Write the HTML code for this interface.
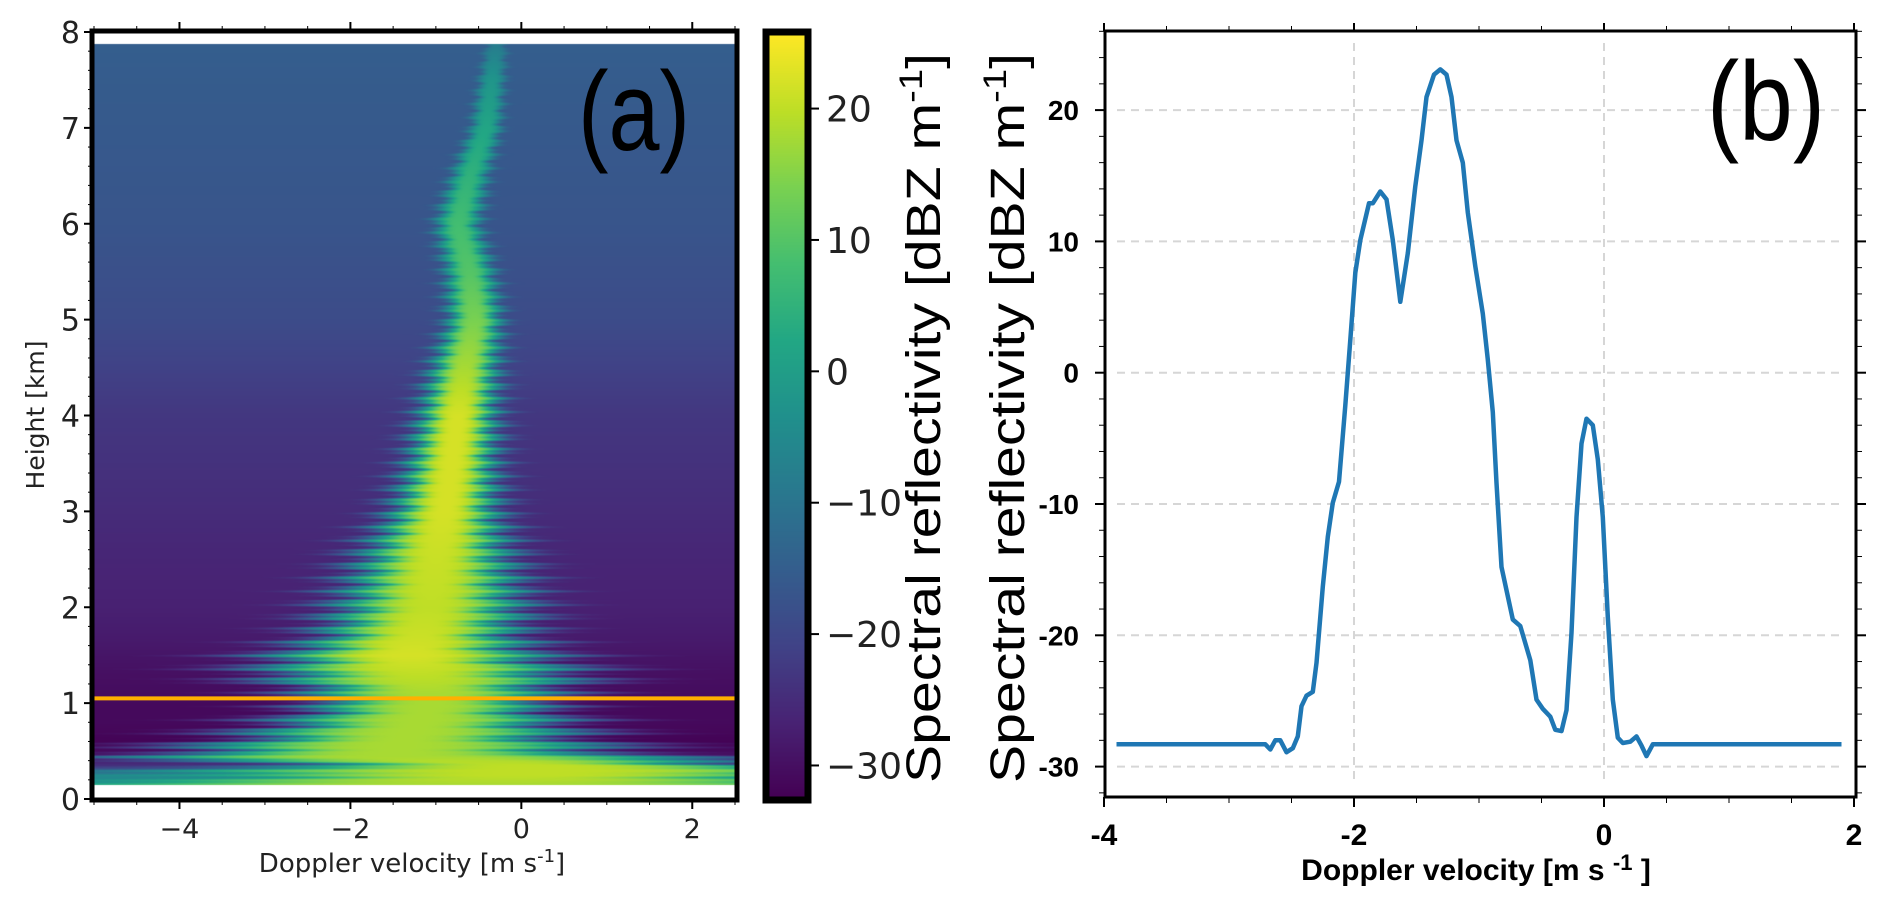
<!DOCTYPE html>
<html><head><meta charset="utf-8">
<style>
html,body{margin:0;padding:0;background:#fff;}
#wrap{position:relative;width:1892px;height:908px;overflow:hidden;}
canvas,svg{position:absolute;left:0;top:0;}
</style></head>
<body>
<div id="wrap">
<canvas id="heat" width="1892" height="908"></canvas>
<svg id="svg" width="1892" height="908" xmlns="http://www.w3.org/2000/svg"></svg>
</div>
<script>
// ---------- Panel (a) data: spectrogram profile keyframes ----------
const rowHeightsKm = [7.87, 7.5, 7.0, 6.5, 6.0, 5.5, 5.0, 4.5, 4.0, 3.5, 3.0, 2.6, 2.0, 1.7, 1.5, 1.3, 1.1, 1.0, 0.8, 0.6, 0.45, 0.35, 0.25, 0.15];
const rowBackground = [-15, -15.5, -16, -16.5, -17, -18, -19, -21, -23, -24, -25, -26, -27, -28, -29, -30, -30.5, -31, -31, -32, -30, -24, -5, -5];
const rowCenter = [-0.3, -0.35, -0.42, -0.61, -0.75, -0.61, -0.55, -0.67, -0.75, -0.82, -0.9, -0.99, -1.07, -1.2, -1.32, -1.2, -1.07, -1.07, -1.2, -1.4, -1.5, 0.2, 0.0, -0.5];
const rowHalfWidth = [0.1, 0.12, 0.14, 0.17, 0.2, 0.22, 0.24, 0.3, 0.35, 0.4, 0.48, 0.65, 0.85, 0.9, 1.2, 1.4, 1.1, 1.0, 1.3, 1.6, 2.3, 2.5, 2.8, 2.8];
const rowPeak = [-8, -2, 2, 5, 8, 10, 14, 18, 22, 22, 22, 21, 20, 21, 22, 20, 18, 18, 18, 18, 18, 20, 20, 18];
const markerHeightKm = 1.05;
const cbTicks = [20, 10, 0, -10, -20, -30];
const aXTicks = [-4, -2, 0, 2];
const aYTicks = [0, 1, 2, 3, 4, 5, 6, 7, 8];

// ---------- Panel (b) data ----------
const bVel = [-3.9,-2.71,-2.67,-2.63,-2.59,-2.54,-2.49,-2.45,-2.42,-2.38,-2.33,-2.30,-2.25,-2.21,-2.17,-2.12,-2.07,-2.03,-1.99,-1.95,-1.88,-1.85,-1.79,-1.74,-1.69,-1.63,-1.57,-1.51,-1.46,-1.42,-1.36,-1.31,-1.26,-1.22,-1.18,-1.13,-1.09,-1.03,-0.97,-0.93,-0.89,-0.86,-0.82,-0.73,-0.67,-0.59,-0.54,-0.49,-0.43,-0.39,-0.34,-0.30,-0.26,-0.22,-0.18,-0.14,-0.09,-0.05,-0.01,0.03,0.07,0.11,0.15,0.21,0.26,0.30,0.34,0.39,1.9];
const bRefl = [-28.3,-28.3,-28.7,-28.0,-28.0,-28.9,-28.6,-27.7,-25.4,-24.6,-24.3,-22.1,-16.3,-12.5,-9.9,-8.3,-2.5,2.5,7.6,10.1,12.9,12.9,13.8,13.2,10.1,5.4,9.1,14.2,17.7,21.0,22.7,23.1,22.7,21.0,17.7,16.0,12.2,8.1,4.5,1.0,-3.0,-8.4,-14.8,-18.8,-19.3,-21.9,-24.9,-25.6,-26.2,-27.2,-27.3,-25.7,-19.8,-11.0,-5.4,-3.5,-4.0,-6.6,-11.0,-18.6,-24.9,-27.8,-28.2,-28.1,-27.7,-28.4,-29.2,-28.3,-28.3];
const bXTicks = [-4, -2, 0, 2];
const bYTicks = [20, 10, 0, -10, -20, -30];

// ---------- axes ----------
const A = {x0:94, x1:735, y0:32, y1:799, vmin:-5, vmax:2.5, hmin:0, hmax:8};
const ax = v => A.x0 + (v - A.vmin) / (A.vmax - A.vmin) * (A.x1 - A.x0);
const ay = h => A.y1 - (h - A.hmin) / (A.hmax - A.hmin) * (A.y1 - A.y0);
const CB = {x0:769, x1:805, y0:35, y1:797, zmin:-32.4, zmax:25.6};
const cby = z => CB.y1 - (z - CB.zmin) / (CB.zmax - CB.zmin) * (CB.y1 - CB.y0);
const B = {x0:1105, x1:1856, y0:31, y1:797};
const bx = v => 1604 + v * 125;
const by = r => 372.7 - r * 13.13;

// viridis
const VIR = [[68,1,84],[72,35,116],[64,67,135],[52,94,141],[41,120,142],[32,144,140],[34,167,132],[68,190,112],[121,209,81],[189,222,38],[253,231,37]];
function viridis(t){ t=Math.max(0,Math.min(1,t)); const f=t*(VIR.length-1); const i=Math.min(VIR.length-2,Math.floor(f)); const u=f-i;
  return VIR[i].map((c,k)=>Math.round(c+(VIR[i+1][k]-c)*u)); }
function zc(z){ return viridis((z-CB.zmin)/(CB.zmax-CB.zmin)); }
function interpRow(arr,h){
  for(let i=0;i<rowHeightsKm.length-1;i++){
    const a=rowHeightsKm[i], b=rowHeightsKm[i+1];
    if(h<=a && h>=b){ const u=(a-h)/(a-b); return arr[i]+(arr[i+1]-arr[i])*u; }
  }
  return h>rowHeightsKm[0]?arr[0]:arr[arr.length-1];
}

// ---------- draw heatmap ----------
const cv=document.getElementById('heat'); const ctx=cv.getContext('2d');
const heatTop=Math.round(ay(rowHeightsKm[0])), heatBot=Math.round(ay(rowHeightsKm[rowHeightsKm.length-1]));
const img=ctx.createImageData(A.x1-A.x0, heatBot-heatTop);
for(let py=heatTop;py<heatBot;py++){
  const h=(A.y1-py)/(A.y1-A.y0)*(A.hmax-A.hmin);
  const bg=interpRow(rowBackground,h), c=interpRow(rowCenter,h), w0=interpRow(rowHalfWidth,h), pk=interpRow(rowPeak,h);
  const w=w0*(1+0.2*Math.sin(h*47)+0.14*Math.sin(h*131));
  for(let px=A.x0;px<A.x1;px++){
    const v=A.vmin+(px-A.x0)/(A.x1-A.x0)*(A.vmax-A.vmin);
    const dd=Math.abs((v-c)/w); const g=Math.exp(-dd*dd*dd*0.6);
    const z=bg+(pk-bg)*g;
    const col=zc(z); const k=((py-heatTop)*(A.x1-A.x0)+(px-A.x0))*4;
    img.data[k]=col[0]; img.data[k+1]=col[1]; img.data[k+2]=col[2]; img.data[k+3]=255;
  }
}
ctx.putImageData(img,A.x0,heatTop);
// colorbar
for(let py=CB.y0;py<CB.y1;py++){ const z=CB.zmin+(CB.y1-py)/(CB.y1-CB.y0)*(CB.zmax-CB.zmin); const c=zc(z);
  ctx.fillStyle=`rgb(${c[0]},${c[1]},${c[2]})`; ctx.fillRect(CB.x0,py,CB.x1-CB.x0,1); }

// ---------- SVG ----------
const NS='http://www.w3.org/2000/svg'; const svg=document.getElementById('svg');
function el(tag,attrs,parent){ const e=document.createElementNS(NS,tag); for(const k in attrs) e.setAttribute(k,attrs[k]); (parent||svg).appendChild(e); return e; }
function txt(s,attrs){ const e=el('text',attrs); e.textContent=s; return e; }

// marker line
let e=el('line',{x1:A.x0,x2:A.x1,y1:ay(markerHeightKm),y2:ay(markerHeightKm),stroke:'#ffb000','stroke-width':4});


// panel a frame
e=el('rect',{x:A.x0-2,y:A.y0-1,width:A.x1-A.x0+4,height:A.y1-A.y0+2,fill:'none',stroke:'#000','stroke-width':5});


aYTicks.forEach(h=>{ el('line',{x1:A.x0-10,x2:A.x0,y1:ay(h),y2:ay(h),stroke:'#000','stroke-width':2});
  const t=txt(String(h),{x:A.x0-14,y:ay(h)+11,'text-anchor':'end','font-family':'DejaVu Sans, sans-serif','font-size':30,fill:'#222'});
  
   });
for(let h=0.2;h<8;h+=0.2){ el('line',{x1:A.x0-6,x2:A.x0,y1:ay(h),y2:ay(h),stroke:'#000','stroke-width':1}); }
aXTicks.forEach(v=>{ el('line',{x1:ax(v),x2:ax(v),y1:A.y1,y2:A.y1+10,stroke:'#000','stroke-width':2});
  el('line',{x1:ax(v),x2:ax(v),y1:A.y0,y2:A.y0-10,stroke:'#000','stroke-width':2});
  const t=txt((v<0?'\u2212':'')+Math.abs(v),{x:ax(v),y:838,'text-anchor':'middle','font-family':'DejaVu Sans, sans-serif','font-size':27,fill:'#222'});
  
   });
for(let v=-5;v<=2.5;v+=0.5){ el('line',{x1:ax(v),x2:ax(v),y1:A.y1,y2:A.y1+6,stroke:'#000','stroke-width':1}); el('line',{x1:ax(v),x2:ax(v),y1:A.y0,y2:A.y0-6,stroke:'#000','stroke-width':1}); }
e=txt('Height [km]',{x:0,y:0,transform:'translate(44,415) rotate(-90)','text-anchor':'middle','font-family':'DejaVu Sans, sans-serif','font-size':25,fill:'#222'});


e=el('text',{x:412,y:872,'text-anchor':'middle','font-family':'DejaVu Sans, sans-serif','font-size':26,fill:'#222'});
e.innerHTML='Doppler velocity [m s<tspan dy="-10" font-size="18">-1</tspan><tspan dy="10">]</tspan>';


e=txt('(a)',{x:578,y:150,'font-family':'Liberation Sans, sans-serif','font-size':112,fill:'#000',textLength:112,lengthAdjust:'spacingAndGlyphs'});



// colorbar frame & ticks
e=el('rect',{x:CB.x0-3,y:CB.y0-3,width:CB.x1-CB.x0+6,height:CB.y1-CB.y0+6,fill:'none',stroke:'#000','stroke-width':7});


cbTicks.forEach(z=>{ el('line',{x1:CB.x1+3,x2:CB.x1+14,y1:cby(z),y2:cby(z),stroke:'#000','stroke-width':2});
  const t=txt((z<0?'\u2212':'')+Math.abs(z),{x:826,y:cby(z)+13,'font-family':'DejaVu Sans, sans-serif','font-size':36,fill:'#222'});
  
   });
[[923,'colorbar-title'],[1007,'y-axis-title-b']].forEach(([cx,nm])=>{
  const t=el('text',{x:0,y:0,transform:`translate(${cx+17},418) rotate(-90)`,'text-anchor':'middle','font-family':'Liberation Sans, sans-serif','font-size':48,fill:'#000',textLength:730,lengthAdjust:'spacingAndGlyphs'});
  t.innerHTML='Spectral reflectivity [dBZ m<tspan dy="-18" font-size="32">-1</tspan><tspan dy="18">]</tspan>';
  
   });

// panel b grid
bYTicks.forEach(r=>{ el('line',{x1:1117,x2:1842,y1:by(r),y2:by(r),stroke:'#d6d6d6','stroke-width':2,'stroke-dasharray':'8 6'}); });
[-2,0].forEach(v=>{ el('line',{x1:bx(v),x2:bx(v),y1:43,y2:785,stroke:'#d6d6d6','stroke-width':2,'stroke-dasharray':'8 6'}); });
// curve
let pathD=''; bVel.forEach((v,i)=>{ pathD+=(i?'L':'M')+bx(v).toFixed(1)+' '+by(bRefl[i]).toFixed(1); });
e=el('path',{d:pathD,fill:'none',stroke:'#1f77b4','stroke-width':4.5,'stroke-linejoin':'round'});


// frame
e=el('rect',{x:B.x0,y:B.y0,width:B.x1-B.x0,height:B.y1-B.y0,fill:'none',stroke:'#000','stroke-width':3});


bYTicks.forEach(r=>{ el('line',{x1:B.x0-10,x2:B.x0,y1:by(r),y2:by(r),stroke:'#000','stroke-width':2});
  el('line',{x1:B.x1,x2:B.x1+10,y1:by(r),y2:by(r),stroke:'#000','stroke-width':2});
  const t=txt(String(r),{x:1079,y:by(r)+10,'text-anchor':'end','font-family':'Liberation Sans Narrow, Liberation Sans, sans-serif','font-weight':'bold','font-size':28,fill:'#000'});
  
   });
for(let r=-32;r<=26;r+=2){ el('line',{x1:B.x0-6,x2:B.x0,y1:by(r),y2:by(r),stroke:'#000','stroke-width':1}); el('line',{x1:B.x1,x2:B.x1+6,y1:by(r),y2:by(r),stroke:'#000','stroke-width':1}); }
bXTicks.forEach(v=>{ el('line',{x1:bx(v),x2:bx(v),y1:B.y1,y2:B.y1+10,stroke:'#000','stroke-width':2});
  el('line',{x1:bx(v),x2:bx(v),y1:B.y0,y2:B.y0-8,stroke:'#000','stroke-width':2});
  const t=txt(String(v),{x:bx(v),y:845,'text-anchor':'middle','font-family':'Liberation Sans Narrow, Liberation Sans, sans-serif','font-weight':'bold','font-size':30,fill:'#000'});
  
   });
for(let v=-4;v<=2;v+=0.5){ el('line',{x1:bx(v),x2:bx(v),y1:B.y1,y2:B.y1+6,stroke:'#000','stroke-width':1}); el('line',{x1:bx(v),x2:bx(v),y1:B.y0,y2:B.y0-5,stroke:'#000','stroke-width':1}); }
e=el('text',{x:1476,y:880,'text-anchor':'middle','font-family':'Liberation Sans Narrow, Liberation Sans, sans-serif','font-weight':'bold','font-size':30,fill:'#000'});
e.innerHTML='Doppler velocity [m s <tspan dy="-10" font-size="22">-1</tspan><tspan dy="10"> ]</tspan>';


e=txt('(b)',{x:1707,y:140,'font-family':'Liberation Sans, sans-serif','font-size':112,fill:'#000',textLength:118,lengthAdjust:'spacingAndGlyphs'});


</script>
</body></html>
